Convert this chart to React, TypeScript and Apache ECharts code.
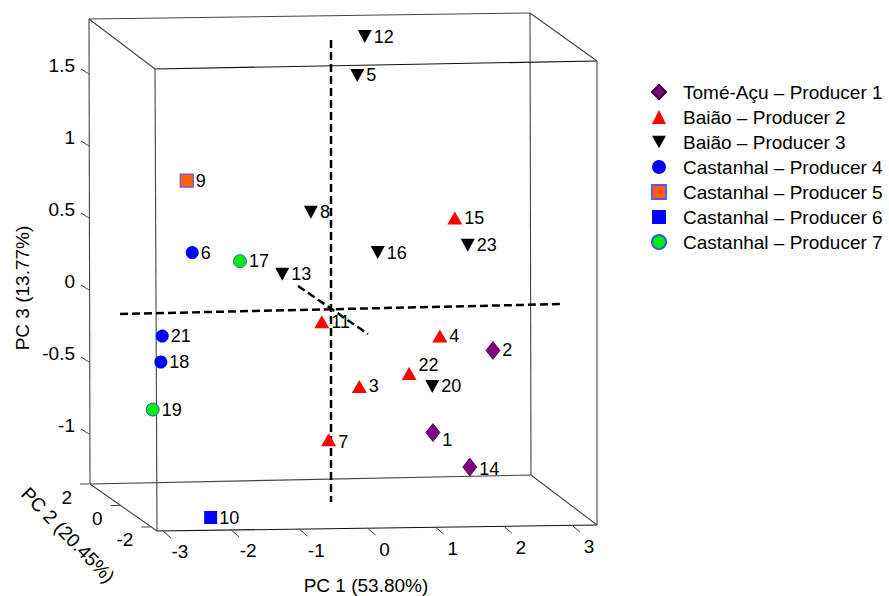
import React, { useEffect, useRef } from "react";
import * as echarts from "echarts";

// Sample positions as seen in the projected 3D view (PC1 along the front face, PC3 on the back-left scale)
const producer1 = [["1", 0.96, -0.99], ["2", 1.84, -0.42], ["14", 1.5, -1.23]];
const producer2 = [["3", -0.12, -0.67], ["4", 1.06, -0.32], ["7", -0.57, -1.04], ["11", -0.67, -0.22], ["15", 1.28, 0.5], ["22", 0.61, -0.58]];
const producer3 = [["5", -0.15, 1.49], ["8", -0.83, 0.54], ["12", -0.04, 1.76], ["13", -1.25, 0.11], ["16", 0.15, 0.26], ["20", 0.95, -0.67], ["23", 1.47, 0.31]];
const producer4 = [["6", -2.57, 0.26], ["18", -3.03, -0.5], ["21", -3.01, -0.32]];
const producer5 = [["9", -2.65, 0.76]];
const producer6 = [["10", -2.3, -1.58]];
const producer7 = [["17", -1.87, 0.2], ["19", -3.15, -0.83]];

const seriesNames = [
  "Tomé-Açu – Producer 1",
  "Baião – Producer 2",
  "Baião – Producer 3",
  "Castanhal – Producer 4",
  "Castanhal – Producer 5",
  "Castanhal – Producer 6",
  "Castanhal – Producer 7",
];

const pc1Ticks = [-3, -2, -1, 0, 1, 2, 3];
const pc2Ticks = [2, 0, -2];
const pc3Ticks = [1.5, 1, 0.5, 0, -0.5, -1];

const axisTitles = { pc1: "PC 1 (53.80%)", pc2: "PC 2 (20.45%)", pc3: "PC 3 (13.77%)" };

const FONT = '"Liberation Sans", Arial, sans-serif';
const labelOffsets: Record<string, number[]> = { "22": [0, -9], "1": [0, 7], "14": [0, 2], "7": [0, 2] };

function toData(arr: any[]) {
  return arr.map(([name, x, y]) => ({
    name,
    value: [x, y],
    label: labelOffsets[name] ? { offset: labelOffsets[name] } : undefined,
  }));
}

const DOWN_TRI = "path://M0,0L10,0L5,9Z";

export default function App() {
  const ref = useRef<HTMLDivElement>(null);
  useEffect(() => {
    const chart = echarts.init(ref.current!, null, { renderer: "svg" });
    const pointLabel = {
      show: true,
      position: "right",
      distance: 2,
      formatter: "{b}",
      color: "#000",
      fontSize: 18,
      fontFamily: FONT,
    };
    const mk = (name: string, arr: any[], symbol: string, size: any, itemStyle: any) => ({
      type: "scatter",
      name,
      data: toData(arr),
      symbol,
      symbolSize: size,
      itemStyle: { opacity: 1, ...itemStyle },
      label: pointLabel,
      z: 5,
      emphasis: { disabled: true },
    });
    const frame = "#444";
    const front = "#111";
    const lineEl = (x1: number, y1: number, x2: number, y2: number, stroke: string, extra: any = {}) => ({
      type: "line",
      shape: { x1, y1, x2, y2 },
      style: { stroke, lineWidth: 1.1, ...extra },
      silent: true,
      z: 1,
    });
    const dash = { lineWidth: 2.5, lineDash: [8, 4] };
    chart.setOption({
      animation: false,
      grid: { left: 80, top: 10, width: 530, height: 550 },
      xAxis: { type: "value", min: -4.2155, max: 3.5557, show: false },
      yAxis: { type: "value", min: -1.875, max: 1.9444, show: false },
      legend: {
        orient: "vertical",
        left: 651,
        top: 82,
        padding: 0,
        itemWidth: 14,
        itemHeight: 14,
        itemGap: 5,
        data: seriesNames,
        itemStyle: { opacity: 1 },
        textStyle: { fontSize: 19, fontFamily: FONT, color: "#000", lineHeight: 20, padding: [0, 0, 0, 12] },
        selectedMode: false,
      },
      graphic: [
        // back face
        lineEl(89, 19, 530, 13, frame),
        lineEl(530, 13, 531, 475, frame),
        lineEl(531, 475, 90, 484, frame),
        lineEl(90, 484, 89, 19, frame),
        // front face
        lineEl(155, 69, 597, 61, front),
        lineEl(597, 61, 597, 525, frame),
        lineEl(597, 525, 157, 531, front),
        lineEl(157, 531, 155, 69, frame),
        // depth edges
        lineEl(89, 19, 155, 69, frame),
        lineEl(530, 13, 597, 61, frame),
        lineEl(531, 475, 597, 525, frame),
        lineEl(90, 484, 157, 531, frame),
        // origin axes (dashed)
        lineEl(331, 40, 331, 502, "#000", dash),
        lineEl(120, 314, 563, 304, "#000", dash),
        lineEl(298, 286, 368, 334, "#000", dash),
        {
          type: "text",
          x: 366,
          y: 585,
          style: { text: axisTitles.pc1, fontSize: 19, fontFamily: FONT, fill: "#000", align: "center", verticalAlign: "middle" },
        },
        {
          type: "text",
          x: 22,
          y: 288,
          rotation: Math.PI / 2,
          style: { text: axisTitles.pc3, fontSize: 19, fontFamily: FONT, fill: "#000", align: "center", verticalAlign: "middle" },
        },
        {
          type: "text",
          x: 68,
          y: 535,
          rotation: -0.8,
          style: { text: axisTitles.pc2, fontSize: 19, fontFamily: FONT, fill: "#000", align: "center", verticalAlign: "middle" },
        },
      ],
      series: [
        mk(seriesNames[0], producer1, "diamond", [14, 18], { color: "#800080", borderColor: "#3d0040", borderWidth: 0.8 }),
        mk(seriesNames[1], producer2, "triangle", [15, 13], { color: "#ff0000" }),
        mk(seriesNames[2], producer3, DOWN_TRI, [14, 13], { color: "#000000" }),
        mk(seriesNames[3], producer4, "circle", 13, { color: "#0000ff" }),
        mk(seriesNames[4], producer5, "rect", 13, { color: "#ff6010", borderColor: "#5a5aee", borderWidth: 1.2 }),
        mk(seriesNames[5], producer6, "rect", 13, { color: "#0000ff" }),
        mk(seriesNames[6], producer7, "circle", 13, { color: "#00ee00", borderColor: "#3355ff", borderWidth: 1 }),
        {
          type: "custom",
          name: "pc1ticks",
          coordinateSystem: "cartesian2d",
          silent: true,
          data: pc1Ticks.map((v) => [v, 0]),
          encode: { x: 0, y: 1 },
          renderItem: (params: any, api: any) => {
            const v = api.value(0);
            const x = api.coord([v, 0])[0];
            const yb = 531 - ((x - 157) * 6) / 440;
            return {
              type: "group",
              children: [
                { type: "line", shape: { x1: x, y1: yb, x2: x + 8, y2: yb + 7 }, style: { stroke: frame, lineWidth: 1 } },
                { type: "text", x: x + 17, y: yb + 21, style: { text: String(v), fontSize: 19, fontFamily: FONT, fill: "#000", align: "center", verticalAlign: "middle" } },
              ],
            };
          },
        },
        {
          type: "custom",
          name: "pc3ticks",
          coordinateSystem: "cartesian2d",
          silent: true,
          data: pc3Ticks.map((v) => [0, v]),
          encode: { x: 0, y: 1 },
          renderItem: (params: any, api: any) => {
            const v = api.value(1);
            const y = api.coord([0, v])[1];
            return {
              type: "group",
              children: [
                { type: "line", shape: { x1: 89, y1: y, x2: 81, y2: y - 5 }, style: { stroke: frame, lineWidth: 1 } },
                { type: "text", x: 75, y: y - 8, style: { text: String(v), fontSize: 19, fontFamily: FONT, fill: "#000", align: "right", verticalAlign: "middle" } },
              ],
            };
          },
        },
        {
          type: "custom",
          name: "pc2ticks",
          coordinateSystem: "none",
          silent: true,
          data: pc2Ticks.map((v) => [v]),
          renderItem: (params: any, api: any) => {
            const v = api.value(0);
            const t = (2 - v) * 0.2287;
            const bx = 90 + 67 * t;
            const by = 484 + 47 * t;
            return {
              type: "group",
              children: [
                { type: "line", shape: { x1: bx - 10, y1: by, x2: bx - 1, y2: by }, style: { stroke: frame, lineWidth: 1 } },
                { type: "text", x: bx - 18, y: by + 13, style: { text: String(v), fontSize: 19, fontFamily: FONT, fill: "#000", align: "right", verticalAlign: "middle" } },
              ],
            };
          },
        },
      ],
    });
    return () => chart.dispose();
  }, []);
  return <div ref={ref} style={{ position: "fixed", left: 0, top: 0, width: 889, height: 596, background: "#fff" }} />;
}
